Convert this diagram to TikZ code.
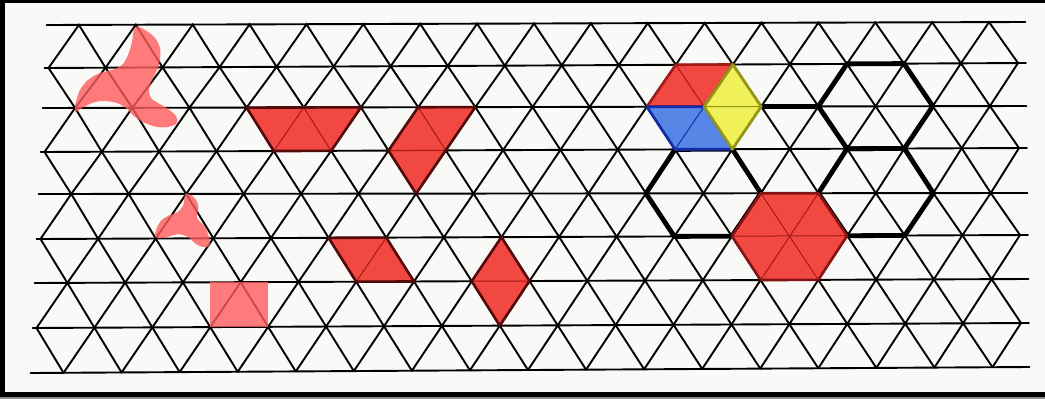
\documentclass[tikz,border=0pt]{standalone}
\definecolor{paper}{RGB}{249,249,247}
\definecolor{shapered}{RGB}{241,72,66}
\definecolor{lightred}{RGB}{255,92,92}
\definecolor{darkred}{RGB}{85,10,10}
\definecolor{innerred}{RGB}{165,25,22}
\definecolor{hexblue}{RGB}{86,134,230}
\definecolor{darkblue}{RGB}{22,44,168}
\definecolor{hexyellow}{RGB}{240,240,88}
\definecolor{yolive}{RGB}{150,150,22}
\tikzset{
  gridline/.style={line width=1.9pt, black, line cap=round},
  thickline/.style={line width=4.8pt, black, line join=round, line cap=round},
  solidshape/.style={fill=shapered},
  solidedge/.style={draw=darkred, line width=2.6pt, line join=round},
  innerline/.style={draw=innerred, line width=1pt},
  ghost/.style={fill=lightred, fill opacity=0.8},
}
\begin{document}
\begin{tikzpicture}[x=1pt,y=-1pt]
\fill[paper] (0,0) rectangle (1045,399);
\useasboundingbox (0,0) rectangle (1045,399);
% lattice points
\foreach \r in {0,...,8}{
  \pgfmathsetmacro\yl{{25,68,108,152,194,239,283,328,373}[\r]}
  \pgfmathsetmacro\yr{{22,63,106,148,193,235,279,323,367}[\r]}
  \pgfmathsetmacro\lx{50.5-2*\r}
  \pgfmathsetmacro\rx{1017.5+0.5*\r}
  \pgfmathsetmacro\stp{(\rx-\lx)/34}
  \foreach \c in {0,...,34}{
    \pgfmathsetmacro\xx{\lx+\c*\stp}
    \pgfmathsetmacro\yy{\yl+(\yr-\yl)*\c/34}
    \coordinate (v\c-\r) at (\xx,\yy);
  }
  \pgfmathsetmacro\xs{\lx-4}
  \pgfmathsetmacro\xe{\rx+8}
  \coordinate (hs\r) at (\xs,\yl);
  \coordinate (he\r) at (\xe,\yr);
}
% horizontal lines
\foreach \r in {0,...,8}{\draw[gridline] (hs\r) -- (he\r);}
% diagonals
\foreach \r [evaluate=\r as \rn using int(\r+1)] in {0,2,4,6}{
  \foreach \c [evaluate=\c as \cm using int(\c-1), evaluate=\c as \cp using int(\c+1)] in {1,3,...,33}{
    \draw[gridline] (v\cm-\rn) -- (v\c-\r) -- (v\cp-\rn);
  }
}
\foreach \r [evaluate=\r as \rn using int(\r+1)] in {1,3,5,7}{
  \foreach \c [evaluate=\c as \cp using int(\c+1)] in {0,2,...,32}{
    \draw[gridline] (v\c-\r) -- (v\cp-\rn);
  }
  \foreach \c [evaluate=\c as \cm using int(\c-1)] in {2,4,...,34}{
    \draw[gridline] (v\c-\r) -- (v\cm-\rn);
  }
}
% translucent shapes: two pinwheels and a square
\fill[ghost] plot[smooth cycle, tension=0.55] coordinates {
  (135,27) (145,30) (155,38) (160,48) (160,60) (157,70) (152,80) (149,90)
  (151,98) (158,103) (168,109) (176,116) (177,123) (168,127) (157,127)
  (145,123) (135,117) (127,109) (117,103) (103,101) (92,103) (82,108)
  (75,112) (76,102) (80,90) (88,80) (100,73) (112,70) (122,65) (128,55) (132,42)};
\fill[ghost] plot[smooth cycle, tension=0.55] coordinates {
  (185.7,193.3) (193.3,196.7) (197.7,203.3) (198.3,210) (196.7,216.7)
  (200,221.7) (205,226.7) (208.3,235) (210,243.3) (207.7,246.7) (201.7,246.7)
  (195,243.3) (190,238.3) (183.3,235) (176.7,234.3) (168.3,236.7) (160,238.3)
  (155,236.7) (156.7,228.3) (161.7,220) (170,215) (178.3,211.7) (183.3,205)
  (184.3,198.3)};
\fill[ghost] (v6-7) rectangle (v8-7 |- v7-6);
% solid red shapes
\fill[solidshape] (v7-2) -- (v11-2) -- (v10-3) -- (v8-3) -- cycle;
\draw[innerline] (v8-3) -- (v9-2) -- (v10-3);
\draw[solidedge] (v7-2) -- (v11-2) -- (v10-3) -- (v8-3) -- cycle;
\fill[solidshape] (v13-2) -- (v15-2) -- (v13-4) -- (v12-3) -- cycle;
\draw[innerline] (v13-2) -- (v14-3) -- (v12-3);
\draw[solidedge] (v13-2) -- (v15-2) -- (v13-4) -- (v12-3) -- cycle;
\fill[solidshape] (v10-5) -- (v12-5) -- (v13-6) -- (v11-6) -- cycle;
\draw[innerline] (v12-5) -- (v11-6);
\draw[solidedge] (v10-5) -- (v12-5) -- (v13-6) -- (v11-6) -- cycle;
\fill[solidshape] (v16-5) -- (v17-6) -- (v16-7) -- (v15-6) -- cycle;
\draw[innerline] (v15-6) -- (v17-6);
\draw[solidedge] (v16-5) -- (v17-6) -- (v16-7) -- (v15-6) -- cycle;
% thick hexagon outlines
\draw[thickline] (v25-2) -- (v27-2);
\draw[thickline] (v28-1) -- (v30-1) -- (v31-2) -- (v30-3) -- (v28-3) -- (v27-2) -- cycle;
\draw[thickline] (v28-3) -- (v30-3) -- (v31-4) -- (v30-5) -- (v28-5) -- (v27-4) -- cycle;
\draw[thickline] (v22-3) -- (v24-3) -- (v25-4) -- (v24-5) -- (v22-5) -- (v21-4) -- cycle;
% red hexagon
\fill[solidshape] (v25-4) -- (v27-4) -- (v28-5) -- (v27-6) -- (v25-6) -- (v24-5) -- cycle;
\draw[innerline] (v24-5) -- (v28-5) (v25-4) -- (v27-6) (v27-4) -- (v25-6);
\draw[solidedge, draw=innerred!80!black] (v25-4) -- (v27-4) -- (v28-5) -- (v27-6) -- (v25-6) -- (v24-5) -- cycle;
% coloured hexagon of three rhombi
\fill[shapered] (v22-1) -- (v24-1) -- (v23-2) -- (v21-2) -- cycle;
\draw[innerline] (v22-1) -- (v23-2);
\draw[solidedge, draw=innerred] (v22-1) -- (v24-1) -- (v23-2) -- (v21-2) -- cycle;
\fill[hexblue] (v21-2) -- (v23-2) -- (v24-3) -- (v22-3) -- cycle;
\draw[darkblue, line width=1pt] (v23-2) -- (v22-3);
\draw[darkblue, line width=2.8pt, line join=round] (v21-2) -- (v23-2) -- (v24-3) -- (v22-3) -- cycle;
\fill[hexyellow] (v24-1) -- (v25-2) -- (v24-3) -- (v23-2) -- cycle;
\draw[yolive, line width=1pt] (v23-2) -- (v25-2);
\draw[yolive, line width=2.8pt, line join=round] (v24-1) -- (v25-2) -- (v24-3) -- (v23-2) -- cycle;
% frame
\fill[black] (0,0) rectangle (5,397);
\fill[black] (0,0) rectangle (1045,2.5);
\fill[black] (0,392) rectangle (1045,397);
\fill[black!45] (0,397) rectangle (1045,399);
\end{tikzpicture}
\end{document}
